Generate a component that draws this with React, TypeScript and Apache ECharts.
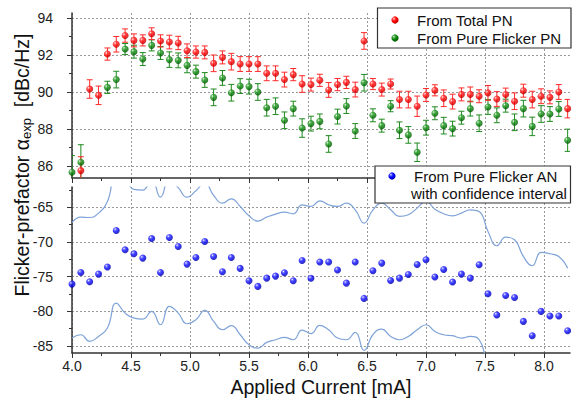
import React, { useEffect, useRef } from 'react';
import * as echarts from 'echarts';

const currents = [4.000, 4.075, 4.150, 4.225, 4.300, 4.375, 4.450, 4.525, 4.600, 4.675, 4.750, 4.825, 4.900, 4.975, 5.050, 5.125, 5.200, 5.275, 5.350, 5.425, 5.500, 5.575, 5.650, 5.725, 5.800, 5.875, 5.950, 6.025, 6.100, 6.175, 6.250, 6.325, 6.400, 6.475, 6.550, 6.625, 6.700, 6.775, 6.850, 6.925, 7.000, 7.075, 7.150, 7.225, 7.300, 7.375, 7.450, 7.525, 7.600, 7.675, 7.750, 7.825, 7.900, 7.975, 8.050, 8.125, 8.200];

const totalPN = [null, 85.75, 90.16, 89.82, 92.05, 92.58, 93.05, 92.79, 92.79, 93.15, 92.76, 92.70, 92.65, 92.23, 92.16, 92.14, 91.55, 91.87, 91.64, 91.51, 91.51, 91.51, 91.01, 91.01, 90.67, 90.94, 90.43, 90.40, 90.63, 90.11, 90.40, 90.52, 90.13, 92.76, 90.43, 90.13, 90.43, 89.59, 89.59, 89.23, 89.84, 90.09, 89.66, 89.48, 89.87, 89.87, 89.77, 89.95, 89.62, 89.86, 89.50, 90.07, 89.59, 89.77, 89.71, 90.00, 89.10];
const totalPNErr = [null, 0.75, 0.5, 0.5, 0.33, 0.42, 0.36, 0.35, 0.3, 0.32, 0.33, 0.37, 0.36, 0.37, 0.33, 0.35, 0.45, 0.35, 0.45, 0.4, 0.4, 0.4, 0.4, 0.4, 0.4, 0.33, 0.45, 0.35, 0.33, 0.4, 0.33, 0.33, 0.4, 0.45, 0.3, 0.35, 0.27, 0.45, 0.45, 0.55, 0.35, 0.3, 0.45, 0.4, 0.35, 0.4, 0.35, 0.4, 0.4, 0.35, 0.45, 0.35, 0.45, 0.4, 0.35, 0.4, 0.5];

const flickerPN = [85.66, 86.20, null, null, 90.25, 90.67, 92.32, 92.18, 91.78, 92.52, 92.11, 91.75, 91.71, 91.44, 91.10, 90.65, 89.71, 90.76, 89.96, 90.32, 90.29, 90.00, 89.15, 89.23, 88.47, 89.10, 88.05, 88.29, 88.41, 87.19, 88.67, 89.24, 87.89, 90.50, 88.74, 88.18, 89.23, 87.93, 87.68, 86.74, 88.07, 88.85, 88.18, 88.02, 88.61, 89.10, 88.31, 89.19, 88.74, 89.26, 88.36, 89.10, 88.14, 88.81, 88.81, 89.08, 87.39];
const flickerPNErr = [0.9, 0.95, null, null, 0.33, 0.45, 0.3, 0.35, 0.35, 0.3, 0.35, 0.42, 0.4, 0.4, 0.35, 0.4, 0.45, 0.4, 0.45, 0.4, 0.4, 0.45, 0.45, 0.45, 0.45, 0.4, 0.5, 0.4, 0.4, 0.45, 0.4, 0.4, 0.4, 0.45, 0.35, 0.35, 0.3, 0.45, 0.45, 0.5, 0.4, 0.35, 0.45, 0.4, 0.35, 0.4, 0.45, 0.4, 0.4, 0.35, 0.45, 0.45, 0.5, 0.45, 0.4, 0.4, 0.6];

const flickerAN = [-76.08, -74.40, -75.74, -74.64, -73.63, -68.36, -71.14, -71.71, -72.34, -69.51, -74.40, -69.36, -70.66, -73.20, -72.24, -69.94, -72.10, -74.30, -72.24, -73.82, -75.60, -76.41, -75.22, -74.93, -74.45, -75.60, -72.67, -75.24, -72.91, -72.91, -74.06, -75.94, -72.91, -78.14, -74.16, -73.06, -75.55, -75.22, -74.69, -73.25, -72.58, -75.07, -73.97, -75.79, -74.64, -75.22, -73.30, -77.47, -80.54, -77.71, -78.00, -81.45, -83.51, -80.01, -80.68, -80.68, -82.79];
const ciUpper = [-67.21, -66.44, -66.49, -65.86, -64.18, -60.5, -61.0, -62.45, -62.55, -61.0, -63.56, -61.0, -62.2, -63.56, -62.65, -61.5, -63.3, -64.42, -63.80, -64.90, -66.25, -67.00, -66.44, -66.00, -65.72, -65.96, -64.66, -64.90, -64.10, -64.66, -64.90, -64.42, -65.38, -67.30, -65.38, -64.42, -65.38, -66.34, -66.10, -65.14, -64.18, -65.29, -65.96, -66.25, -65.86, -65.38, -65.62, -68.50, -70.56, -69.32, -69.70, -72.10, -73.44, -71.52, -71.71, -72.10, -73.78];
const ciLower = [-83.85, -83.37, -84.33, -83.61, -82.41, -78.81, -80.25, -80.97, -81.12, -80.01, -81.93, -79.29, -80.25, -81.79, -81.21, -79.87, -81.45, -82.65, -82.07, -83.37, -84.81, -85.29, -84.47, -84.09, -83.75, -84.09, -82.70, -83.20, -82.03, -82.65, -83.85, -84.09, -83.03, -85.62, -83.37, -82.55, -83.61, -84.09, -83.61, -82.65, -81.93, -82.89, -83.37, -83.51, -83.85, -83.61, -84.09, -87.5, -89.5, -89.0, -89.5, -91.5, -92.5, -91.0, -91.5, -92.0, -93.0];

const xMajorTicks = [4.0, 4.5, 5.0, 5.5, 6.0, 6.5, 7.0, 7.5, 8.0];
const xMinorTicks = [4.25, 4.75, 5.25, 5.75, 6.25, 6.75, 7.25, 7.75];
const yTopMajor = [86, 88, 90, 92, 94];
const yTopMinor = [87, 89, 91, 93];
const yBotMajor = [-85, -80, -75, -70, -65];
const yBotMinor = [-82.5, -77.5, -72.5, -67.5, -62.5];

const FONT = '"Liberation Sans", Arial, sans-serif';

const grad = (c0: string, c1: string, c2: string) =>
  new echarts.graphic.RadialGradient(0.35, 0.32, 0.7, [
    { offset: 0, color: '#ffffff' },
    { offset: 0.22, color: c0 },
    { offset: 0.55, color: c1 },
    { offset: 1, color: c2 },
  ]);

const pairs = (ys: (number | null)[]) =>
  currents.map((x, i) => [x, ys[i]]).filter((p) => p[1] !== null);
const errTriples = (ys: (number | null)[], es: (number | null)[]) =>
  currents.map((x, i) => [x, ys[i], es[i]]).filter((p) => p[1] !== null && p[2] !== null);

const axisLineStyle = { color: '#333', width: 1.5 };
const splitStyle = { show: true, lineStyle: { color: '#9a9a9a', type: [2, 2], width: 1 } };

function xMain(grid: number, showLabels: boolean) {
  return {
    type: 'value', gridIndex: grid, position: 'bottom', min: 4, max: 8.22,
    axisLine: { show: true, onZero: false, lineStyle: axisLineStyle },
    axisTick: { show: true, inside: false, length: 5, customValues: xMajorTicks, lineStyle: { color: '#333', width: 1 } },
    axisLabel: { show: showLabels, customValues: xMajorTicks, formatter: (v: number) => v.toFixed(1), fontSize: 14, color: '#222', fontFamily: FONT, margin: 6 },
    splitLine: splitStyle,
  };
}
function xMinor(grid: number) {
  return {
    type: 'value', gridIndex: grid, position: 'bottom', min: 4, max: 8.22,
    axisLine: { show: false, onZero: false },
    axisTick: { show: true, length: 3, customValues: xMinorTicks, lineStyle: { color: '#333', width: 1 } },
    axisLabel: { show: false }, splitLine: { show: false },
  };
}
function yMain(grid: number, min: number, max: number, ticks: number[]) {
  return {
    type: 'value', gridIndex: grid, position: 'left', min, max,
    axisLine: { show: true, onZero: false, lineStyle: axisLineStyle },
    axisTick: { show: true, inside: false, length: 5, customValues: ticks, lineStyle: { color: '#333', width: 1 } },
    axisLabel: { show: true, customValues: ticks, fontSize: 14, color: '#222', fontFamily: FONT, margin: 19 },
    splitLine: splitStyle,
  };
}
function yMinor(grid: number, min: number, max: number, ticks: number[]) {
  return {
    type: 'value', gridIndex: grid, position: 'left', min, max,
    axisLine: { show: false, onZero: false },
    axisTick: { show: true, length: 3, customValues: ticks, lineStyle: { color: '#333', width: 1 } },
    axisLabel: { show: false }, splitLine: { show: false },
  };
}

function errorSeries(name: string, data: any[], color: string) {
  return {
    name, type: 'custom', xAxisIndex: 0, yAxisIndex: 0, coordinateSystem: 'cartesian2d',
    clip: true, z: 2, data, encode: { x: 0, y: 1 },
    renderItem: (_params: any, api: any) => {
      const x = api.value(0), y = api.value(1), e = api.value(2);
      const top = api.coord([x, y + e]);
      const bot = api.coord([x, y - e]);
      const hw = 3;
      const st = { stroke: color, lineWidth: 1 };
      return {
        type: 'group',
        children: [
          { type: 'line', shape: { x1: top[0], y1: top[1], x2: bot[0], y2: bot[1] }, style: st },
          { type: 'line', shape: { x1: top[0] - hw, y1: top[1], x2: top[0] + hw, y2: top[1] }, style: st },
          { type: 'line', shape: { x1: bot[0] - hw, y1: bot[1], x2: bot[0] + hw, y2: bot[1] }, style: st },
        ],
      };
    },
  };
}

export default function App() {
  const ref = useRef<HTMLDivElement>(null);
  useEffect(() => {
    if (!ref.current) return;
    const chart = echarts.init(ref.current, null, { renderer: 'svg' });
    const red = grad('#ff5050', '#ff0000', '#b80000');
    const green = grad('#4fae4f', '#0a870a', '#005400');
    const blue = grad('#5050ff', '#0000ff', '#0000a8');
    const ciColor = '#7fa3d8';
    chart.setOption({
      animation: false,
      backgroundColor: '#ffffff',
      grid: [
        { left: 72, top: 13, width: 498, height: 165, containLabel: false },
        { left: 72, top: 187, width: 498, height: 166, containLabel: false },
      ],
      xAxis: [xMain(0, false), xMain(1, true), xMinor(0), xMinor(1)],
      yAxis: [
        yMain(0, 85.35, 94.27, yTopMajor),
        yMinor(0, 85.35, 94.27, yTopMinor),
        yMain(1, -86, -62.1, yBotMajor),
        yMinor(1, -86, -62.1, yBotMinor),
      ],
      series: [
        errorSeries('Pure Flicker PN error', errTriples(flickerPN, flickerPNErr), '#1f8a1f'),
        errorSeries('Total PN error', errTriples(totalPN, totalPNErr), '#ff2a2a'),
        {
          name: 'From Pure Flicker PN', type: 'scatter', xAxisIndex: 0, yAxisIndex: 0,
          data: pairs(flickerPN), symbol: 'circle', symbolSize: 7, z: 3,
          itemStyle: { color: green }, clip: true,
        },
        {
          name: 'From Total PN', type: 'scatter', xAxisIndex: 0, yAxisIndex: 0,
          data: pairs(totalPN), symbol: 'circle', symbolSize: 7, z: 4,
          itemStyle: { color: red }, clip: true,
        },
        {
          name: 'Upper confidence', type: 'line', xAxisIndex: 1, yAxisIndex: 2,
          data: pairs(ciUpper), smooth: 0.5, showSymbol: false, clip: true,
          lineStyle: { color: ciColor, width: 1.2 }, z: 2,
        },
        {
          name: 'Lower confidence', type: 'line', xAxisIndex: 1, yAxisIndex: 2,
          data: pairs(ciLower), smooth: 0.5, showSymbol: false, clip: true,
          lineStyle: { color: ciColor, width: 1.2 }, z: 2,
        },
        {
          name: 'From Pure Flicker AN', type: 'scatter', xAxisIndex: 1, yAxisIndex: 2,
          data: pairs(flickerAN), symbol: 'circle', symbolSize: 7, z: 4,
          itemStyle: { color: blue }, clip: true,
        },
      ],
      graphic: [
        {
          type: 'text', x: 321, y: 386.5, z: 100,
          style: { text: 'Applied Current [mA]', font: `19.5px ${FONT}`, fill: '#111', align: 'center', verticalAlign: 'middle' },
        },
        {
          type: 'text', x: 22, y: 165, rotation: Math.PI / 2, z: 100,
          style: {
            text: '{a|Flicker-prefactor α}{b|exp}{a|  [dBc/Hz]}',
            align: 'center', verticalAlign: 'middle',
            rich: {
              a: { fontSize: 19.5, fontFamily: FONT, fill: '#111' },
              b: { fontSize: 13, fontFamily: FONT, fill: '#111', padding: [9, 0, 0, 0] },
            },
          },
        },
        { type: 'rect', z: 100, shape: { x: 377.5, y: 8, width: 193.5, height: 40 }, style: { fill: '#fff', stroke: '#333', lineWidth: 1.2 } },
        { type: 'circle', z: 101, shape: { cx: 395, cy: 20, r: 3.6 }, style: { fill: red } },
        { type: 'circle', z: 101, shape: { cx: 395, cy: 38, r: 3.6 }, style: { fill: green } },
        { type: 'text', z: 101, x: 417, y: 20, style: { text: 'From Total PN', font: `15px ${FONT}`, fill: '#111', verticalAlign: 'middle' } },
        { type: 'text', z: 101, x: 417, y: 38, style: { text: 'From Pure Flicker PN', font: `15px ${FONT}`, fill: '#111', verticalAlign: 'middle' } },
        { type: 'rect', z: 100, shape: { x: 375, y: 166, width: 195.5, height: 37 }, style: { fill: '#fff', stroke: '#333', lineWidth: 1.2 } },
        { type: 'circle', z: 101, shape: { cx: 392, cy: 176, r: 3.6 }, style: { fill: blue } },
        { type: 'text', z: 101, x: 414, y: 176, style: { text: 'From Pure Flicker AN', font: `15px ${FONT}`, fill: '#111', verticalAlign: 'middle' } },
        { type: 'text', z: 101, x: 411, y: 193, style: { text: 'with confidence interval', font: `15px ${FONT}`, fill: '#111', verticalAlign: 'middle' } },
      ],
    });
    return () => chart.dispose();
  }, []);
  return (
    <div
      ref={ref}
      style={{ position: 'fixed', left: 0, top: 0, width: 573, height: 402, background: '#fff' }}
    />
  );
}
